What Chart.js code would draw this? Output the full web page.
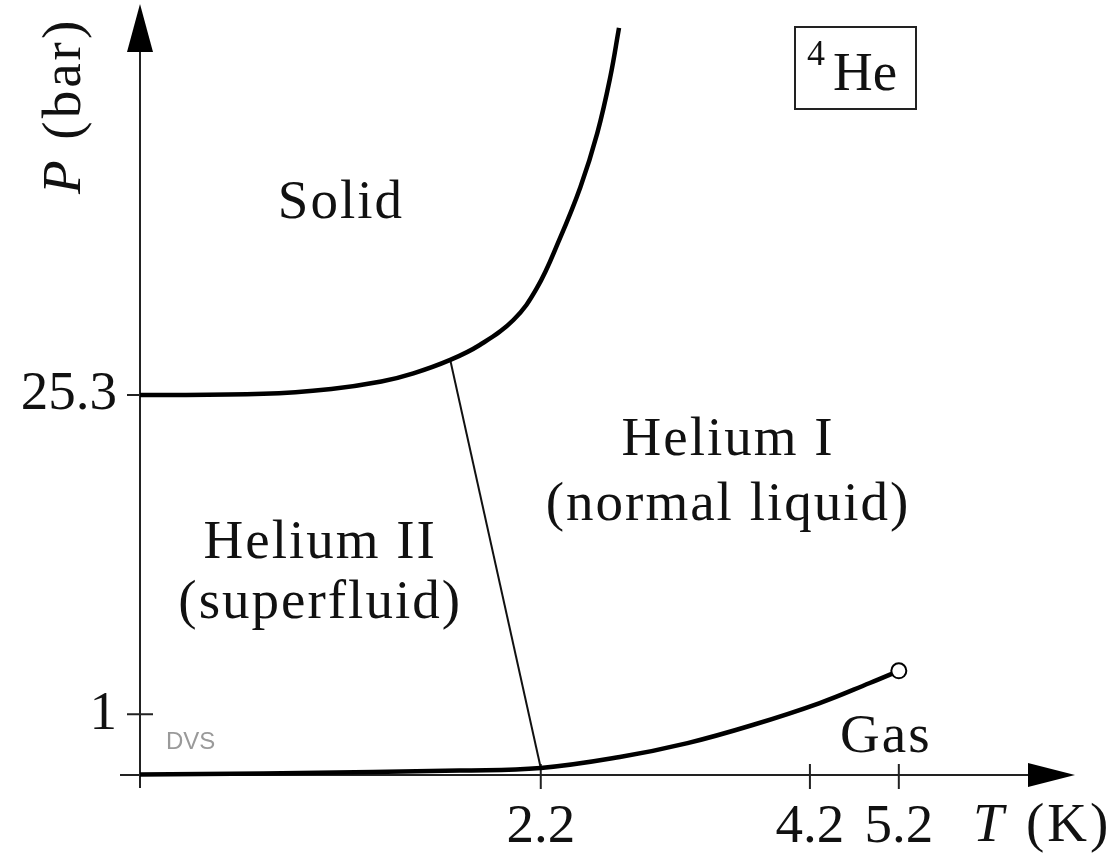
<!DOCTYPE html>
<html>
<head>
<meta charset="utf-8">
<title>Phase diagram of helium-4</title>
<script src="https://cdn.jsdelivr.net/npm/chart.js@4.4.1/dist/chart.umd.min.js"></script>
<style>
  html, body { margin: 0; padding: 0; background: #fff; }
</style>
</head>
<body>
<canvas id="phaseChart" width="1120" height="860"></canvas>
<script>
// temperatures in K, pressures in bar (both axes are drawn on log scales)
const meltingT = [0.84, 1.13, 1.33, 1.50, 1.62, 1.77, 1.90, 2.06, 2.18, 2.30, 2.42, 2.52, 2.60, 2.655];
const meltingP = [25.3, 25.6, 26.9, 29.0, 31.5, 36.1, 42.0, 54.1, 74.8, 121.7, 208, 359, 634, 1041];

const lambdaT = [1.77, 2.2];
const lambdaP = [36.1, 0.58];

const vaporT = [0.84, 1.13, 1.47, 1.81, 2.2, 2.66, 3.13, 3.66, 4.30, 4.85, 5.2];
const vaporP = [0.543, 0.548, 0.557, 0.565, 0.58, 0.648, 0.746, 0.896, 1.119, 1.371, 1.55];

const criticalT = [5.2];
const criticalP = [1.55];

const tTicks = [2.2, 4.2, 5.2];
const pTicks = [1, 25.3];

// region names, anchored at their text baseline
const regionText = ['Solid', 'Helium I', '(normal liquid)', 'Helium II', '(superfluid)', 'Gas'];
const regionT = [1.361, 3.45, 3.45, 1.295, 1.295, 5.04];
const regionP = [152, 13.8, 7.14, 4.86, 2.65, 0.681];

const SERIF = '"Liberation Serif", "Times New Roman", serif';

const toPoints = (xs, ys) => xs.map((v, i) => ({ x: v, y: ys[i] }));

const phaseDecor = {
  id: 'phaseDecor',
  beforeDatasetsDraw(chart) {
    const { ctx, chartArea: a, scales: { x, y } } = chart;
    ctx.save();
    ctx.strokeStyle = '#222';
    ctx.lineWidth = 2;

    // axes run a little past the origin
    ctx.beginPath();
    ctx.moveTo(a.left - 20, a.bottom);
    ctx.lineTo(a.right - 40, a.bottom);
    ctx.moveTo(a.left, a.bottom + 13);
    ctx.lineTo(a.left, a.top + 40);
    ctx.stroke();

    // tick marks cross the axis lines
    ctx.beginPath();
    tTicks.forEach(v => {
      const px = x.getPixelForValue(v);
      ctx.moveTo(px, a.bottom - 11);
      ctx.lineTo(px, a.bottom + 14);
    });
    pTicks.forEach(v => {
      const py = y.getPixelForValue(v);
      ctx.moveTo(a.left - 13, py);
      ctx.lineTo(a.left + 13, py);
    });
    ctx.stroke();

    // arrowheads
    ctx.fillStyle = '#000';
    ctx.beginPath();
    ctx.moveTo(a.right, a.bottom);
    ctx.lineTo(a.right - 47, a.bottom - 12);
    ctx.lineTo(a.right - 47, a.bottom + 12);
    ctx.closePath();
    ctx.fill();
    ctx.beginPath();
    ctx.moveTo(a.left, a.top);
    ctx.lineTo(a.left - 13, a.top + 48);
    ctx.lineTo(a.left + 13, a.top + 48);
    ctx.closePath();
    ctx.fill();
    ctx.restore();
  },
  afterDatasetsDraw(chart) {
    const { ctx, scales: { x, y } } = chart;
    ctx.save();
    ctx.fillStyle = '#111';
    ctx.textBaseline = 'alphabetic';

    // phase regions
    ctx.font = `55px ${SERIF}`;
    ctx.textAlign = 'center';
    ctx.letterSpacing = '2px';
    regionText.forEach((t, i) => {
      ctx.fillText(t, x.getPixelForValue(regionT[i]), y.getPixelForValue(regionP[i]));
    });
    ctx.letterSpacing = '0px';

    // axis titles
    ctx.textAlign = 'left';
    ctx.font = `italic 55px ${SERIF}`;
    ctx.fillText('T', 973, 841);
    ctx.font = `55px ${SERIF}`;
    ctx.letterSpacing = '3px';
    ctx.fillText('(K)', 1026, 841);
    ctx.letterSpacing = '0px';

    ctx.save();
    ctx.translate(80, 194);
    ctx.rotate(-Math.PI / 2);
    ctx.font = `italic 55px ${SERIF}`;
    ctx.fillText('P', 0, 0);
    const w = ctx.measureText('P').width;
    ctx.font = `55px ${SERIF}`;
    ctx.letterSpacing = '3px';
    ctx.fillText(' (bar)', w + 4, 0);
    ctx.restore();

    // isotope tag
    ctx.strokeStyle = '#222';
    ctx.lineWidth = 2;
    ctx.strokeRect(795, 27, 121, 82);
    ctx.font = `36px ${SERIF}`;
    ctx.fillText('4', 807, 65);
    ctx.font = `55px ${SERIF}`;
    ctx.fillText('He', 833, 90);

    // signature
    ctx.fillStyle = '#9a9a9a';
    ctx.font = '24px "Liberation Sans", Arial, sans-serif';
    ctx.fillText('DVS', 166, 749);
    ctx.restore();
  }
};

const tickFont = { family: SERIF, size: 55, lineHeight: 1 };

// pin the plot area: y axis at x=140, T axis at y=775
const noLabelPadding = s => {
  s.paddingTop = 0;
  s.paddingBottom = 0;
  s.paddingLeft = 0;
  s.paddingRight = 0;
};

new Chart(document.getElementById('phaseChart'), {
  type: 'scatter',
  data: {
    datasets: [
      {
        label: 'Critical point',
        data: toPoints(criticalT, criticalP),
        pointRadius: 7.5,
        pointBackgroundColor: '#fff',
        pointBorderColor: '#000',
        pointBorderWidth: 2,
        clip: false,
        order: 0
      },
      {
        label: 'Melting curve',
        data: toPoints(meltingT, meltingP),
        showLine: true,
        borderColor: '#000',
        borderWidth: 4.5,
        pointRadius: 0,
        tension: 0.4,
        clip: false,
        order: 1
      },
      {
        label: 'Vapour pressure',
        data: toPoints(vaporT, vaporP),
        showLine: true,
        borderColor: '#000',
        borderWidth: 4.5,
        pointRadius: 0,
        tension: 0.4,
        clip: false,
        order: 1
      },
      {
        label: 'Lambda line',
        data: toPoints(lambdaT, lambdaP),
        showLine: true,
        borderColor: '#111',
        borderWidth: 2,
        pointRadius: 0,
        clip: false,
        order: 2
      }
    ]
  },
  options: {
    responsive: false,
    animation: false,
    events: [],
    layout: { autoPadding: false, padding: { top: 4, right: 45, left: 0, bottom: 0 } },
    plugins: {
      legend: { display: false },
      tooltip: { enabled: false }
    },
    scales: {
      x: {
        type: 'logarithmic',
        min: 0.84,
        max: 7.94,
        grid: { display: false },
        border: { display: false },
        afterBuildTicks: s => { s.ticks = tTicks.map(v => ({ value: v })); },
        afterFit: s => { s.height = 85; noLabelPadding(s); },
        ticks: {
          autoSkip: false,
          maxRotation: 0,
          padding: 17,
          color: '#111',
          font: tickFont,
          callback: v => String(v)
        }
      },
      y: {
        type: 'logarithmic',
        min: 0.54,
        max: 1326,
        grid: { display: false },
        border: { display: false },
        afterBuildTicks: s => { s.ticks = pTicks.map(v => ({ value: v })); },
        afterFit: s => { s.width = 140; noLabelPadding(s); },
        ticks: {
          autoSkip: false,
          padding: 15,
          color: '#111',
          font: tickFont,
          callback: v => String(v)
        }
      }
    }
  },
  plugins: [phaseDecor]
});
</script>
</body>
</html>
